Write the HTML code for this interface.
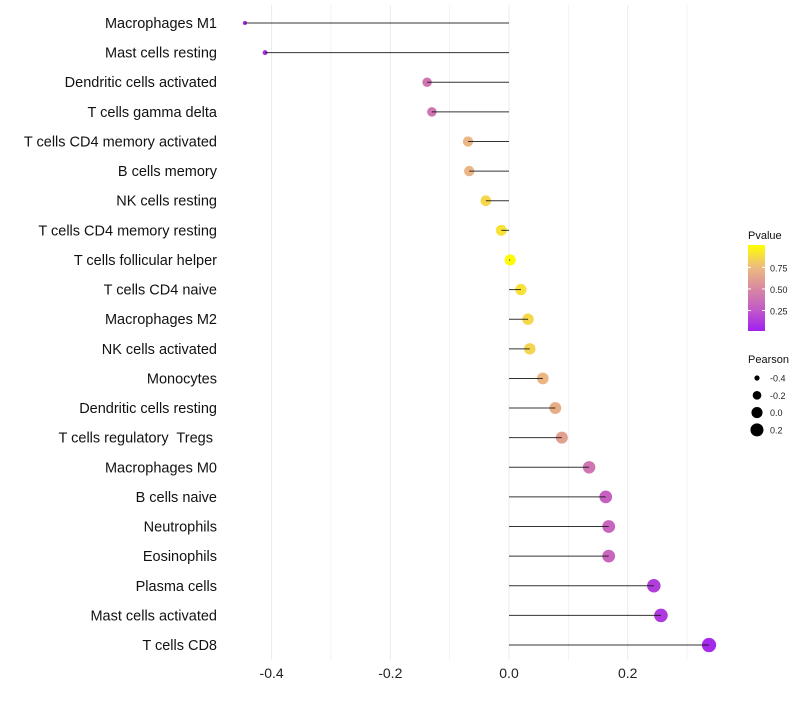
<!DOCTYPE html>
<html><head><meta charset="utf-8"><style>
body{margin:0;background:#fff;font-family:"Liberation Sans",sans-serif}
text{white-space:pre}
</style></head><body>
<svg id="chart" width="800" height="700" xmlns="http://www.w3.org/2000/svg"></svg>
<script>
const categories=["Macrophages M1","Mast cells resting","Dendritic cells activated","T cells gamma delta","T cells CD4 memory activated","B cells memory","NK cells resting","T cells CD4 memory resting","T cells follicular helper","T cells CD4 naive","Macrophages M2","NK cells activated","Monocytes","Dendritic cells resting","T cells regulatory  Tregs ","Macrophages M0","B cells naive","Neutrophils","Eosinophils","Plasma cells","Mast cells activated","T cells CD8"];
const pearson=[-0.445,-0.411,-0.138,-0.130,-0.069,-0.067,-0.039,-0.013,0.002,0.020,0.032,0.035,0.057,0.078,0.089,0.135,0.163,0.168,0.168,0.244,0.256,0.337];
const pvalue=[0.03,0.08,0.40,0.40,0.72,0.72,0.86,0.90,0.99,0.90,0.86,0.85,0.72,0.68,0.62,0.40,0.30,0.32,0.32,0.14,0.12,0.05];
const xTicks=[-0.4,-0.2,0.0,0.2];
const xTickLabels=["-0.4","-0.2","0.0","0.2"];
const pTicks=[0.25,0.5,0.75];
const sizeTicks=[-0.4,-0.2,0.0,0.2];

const svg=document.getElementById('chart');
const NS='http://www.w3.org/2000/svg';
function mk(t,a,p){const e=document.createElementNS(NS,t);for(const k in a)e.setAttribute(k,a[k]);(p||svg).appendChild(e);return e;}
const x=v=>509+v*593.5;
const y=i=>23+i*29.62;
const pMin=0.012,pMax=1.01;
const stops=[[160,32,240],[194,90,200],[217,138,160],[238,189,126],[255,255,0]];
function col(p){let t=(p-pMin)/(pMax-pMin);t=Math.max(0,Math.min(1,t))*4;const i=Math.min(3,Math.floor(t)),f=t-i;const c=stops[i].map((s,k)=>Math.round(s+(stops[i+1][k]-s)*f));return `rgb(${c})`;}
const rad=v=>Math.sqrt(Math.max(1,4+(v+0.445)*60));

[-0.4,-0.3,-0.2,-0.1,0,0.1,0.2,0.3].forEach(v=>{const g=mk('line',{x1:x(v),x2:x(v),y1:5,y2:660,stroke:'#ebebeb','stroke-width':Math.abs(v*10%2)<0.01?1:0.6});

});
xTicks.forEach((v,i)=>{const t=mk('text',{x:x(v),y:678,'text-anchor':'middle','font-size':14,fill:'#222'});t.textContent=xTickLabels[i];

});
categories.forEach((c,i)=>{
const t=mk('text',{x:217,y:y(i)+5,'text-anchor':'end','font-size':14.5,fill:'#111'});t.textContent=c;


const pt=mk('circle',{cx:x(pearson[i]),cy:y(i),r:rad(pearson[i]),fill:col(pvalue[i])});


const s=mk('line',{x1:x(0),x2:x(pearson[i]),y1:y(i),y2:y(i),stroke:'#111','stroke-width':1,'stroke-opacity':0.85});


});
const defs=mk('defs',{});const lg=mk('linearGradient',{id:'pg',x1:0,y1:1,x2:0,y2:0},defs);
stops.forEach((s,i)=>mk('stop',{offset:i/4,'stop-color':`rgb(${s})`},lg));
const lt=mk('text',{x:748,y:239,'font-size':11,fill:'#111'});lt.textContent='Pvalue';


const bar=mk('rect',{x:748,y:245,width:17,height:86,fill:'url(#pg)'});


const py=p=>331-(p-pMin)/(pMax-pMin)*86;
pTicks.forEach(p=>{mk('line',{x1:748,x2:751,y1:py(p),y2:py(p),stroke:'#fff'});mk('line',{x1:762,x2:765,y1:py(p),y2:py(p),stroke:'#fff'});
const t=mk('text',{x:770,y:py(p)+4,'font-size':9,fill:'#222'});t.textContent=p.toFixed(2);

});
const st=mk('text',{x:748,y:363,'font-size':11,fill:'#111'});st.textContent='Pearson';


sizeTicks.forEach((v,i)=>{const cy=378+i*17.3;const c=mk('circle',{cx:757,cy:cy,r:rad(v),fill:'#000'});


const t=mk('text',{x:770,y:cy+3.5,'font-size':9,fill:'#222'});t.textContent=v.toFixed(1);

});
</script>
</body></html>
